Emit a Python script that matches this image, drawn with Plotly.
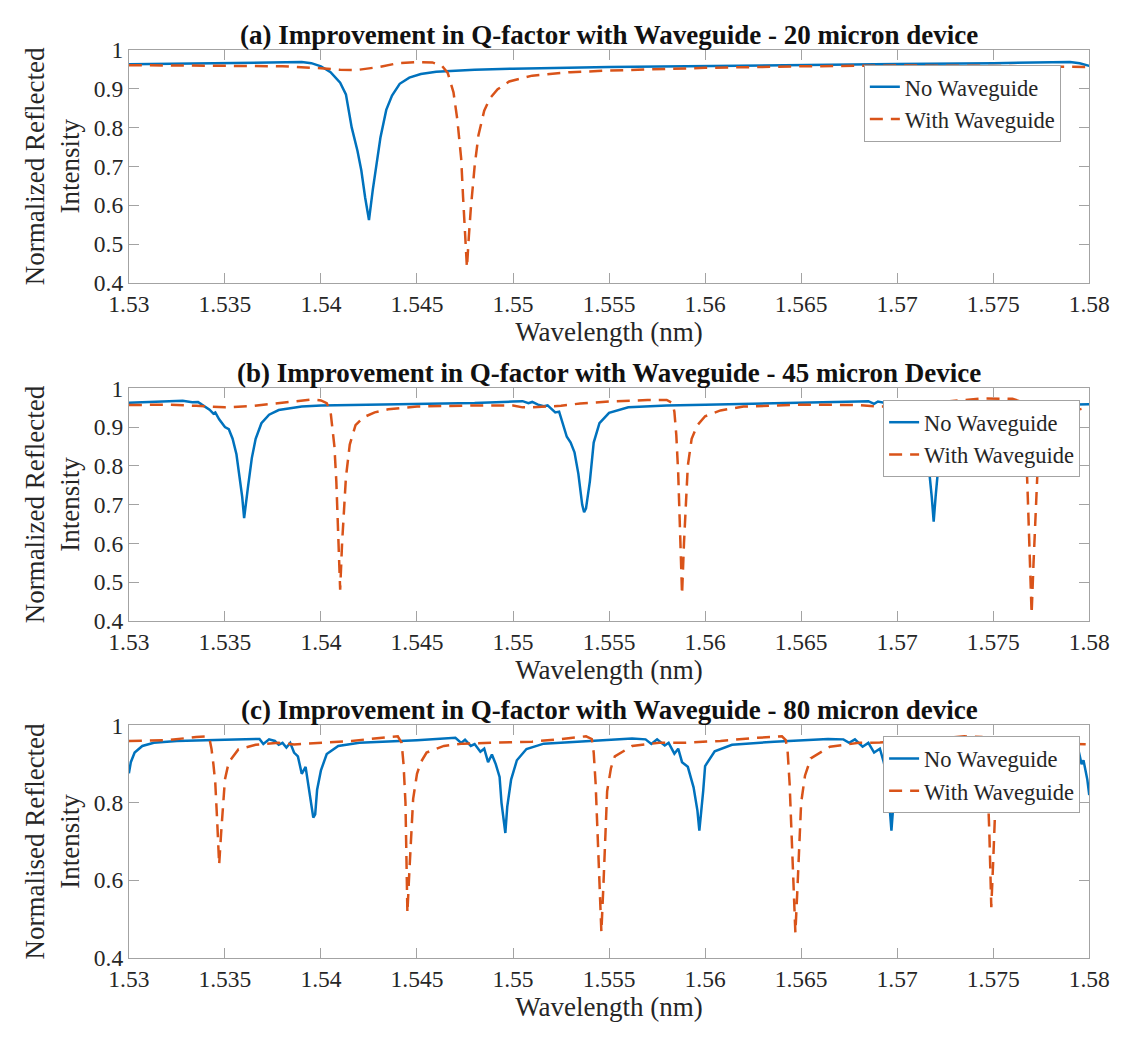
import plotly.graph_objects as go

# ---------------- data ----------------
x_ticks = [1.53, 1.535, 1.54, 1.545, 1.55, 1.555, 1.56, 1.565, 1.57, 1.575, 1.58]
x_tick_text = ["1.53", "1.535", "1.54", "1.545", "1.55", "1.555", "1.56", "1.565", "1.57", "1.575", "1.58"]
y_ticks_ab = [0.4, 0.5, 0.6, 0.7, 0.8, 0.9, 1.0]
y_tick_text_ab = ["0.4", "0.5", "0.6", "0.7", "0.8", "0.9", "1"]
y_ticks_c = [0.4, 0.6, 0.8, 1.0]
y_tick_text_c = ["0.4", "0.6", "0.8", "1"]

series_names = ["No Waveguide", "With Waveguide"]
panel_titles = [
    "(a) Improvement in Q-factor with Waveguide - 20 micron device",
    "(b) Improvement in Q-factor with Waveguide - 45 micron Device",
    "(c) Improvement in Q-factor with Waveguide - 80 micron device",
]
x_title = "Wavelength (nm)"
y_titles = [
    "Normalized Reflected<br>Intensity",
    "Normalized Reflected<br>Intensity",
    "Normalised Reflected<br>Intensity",
]

# (a) 20 micron device
a_no_x = [1.530, 1.533, 1.536, 1.538, 1.539, 1.5395, 1.5400, 1.5405, 1.5410, 1.5413, 1.5416, 1.5419,
          1.5421, 1.5423, 1.5425, 1.5427, 1.5429, 1.5431, 1.5434, 1.5437, 1.5441, 1.5446, 1.5452,
          1.5460, 1.5480, 1.5500, 1.5550, 1.5600, 1.5650, 1.5700, 1.5750, 1.5775, 1.5790, 1.5795, 1.5800]
a_no_y = [0.962, 0.964, 0.966, 0.968, 0.968, 0.965, 0.957, 0.942, 0.915, 0.885, 0.800, 0.740,
          0.690, 0.620, 0.562, 0.640, 0.710, 0.775, 0.845, 0.882, 0.912, 0.928, 0.937,
          0.943, 0.948, 0.951, 0.955, 0.958, 0.961, 0.963, 0.965, 0.968, 0.968, 0.965, 0.958]
a_wg_x = [1.530, 1.535, 1.538, 1.540, 1.541, 1.5418, 1.543, 1.544, 1.545, 1.5458, 1.5463, 1.5466,
          1.5469, 1.5471, 1.5473, 1.5474, 1.5475, 1.5476, 1.5477, 1.5478, 1.5480, 1.5482, 1.5485,
          1.5488, 1.5492, 1.5498, 1.5510, 1.5530, 1.5550, 1.5600, 1.5650, 1.5700, 1.5750, 1.5800]
a_wg_y = [0.960, 0.959, 0.957, 0.952, 0.948, 0.947, 0.955, 0.965, 0.968, 0.967, 0.958, 0.940,
          0.890, 0.820, 0.720, 0.620, 0.520, 0.440, 0.520, 0.590, 0.700, 0.780, 0.843,
          0.875, 0.898, 0.918, 0.933, 0.942, 0.946, 0.953, 0.957, 0.959, 0.958, 0.955]

# (b) 45 micron device
b_no_x = [1.5300, 1.5320, 1.5328, 1.5333, 1.5336, 1.5338, 1.5340, 1.5342, 1.5344, 1.5345, 1.5347,
          1.5349, 1.5350, 1.5352, 1.5354, 1.5356, 1.5358, 1.5359, 1.5360, 1.5361, 1.5362, 1.5364,
          1.5366, 1.5369, 1.5373, 1.5378, 1.5390, 1.5400, 1.5450, 1.5480, 1.5500, 1.5505, 1.5508,
          1.5510, 1.5513, 1.5516, 1.5518, 1.5520, 1.5522, 1.5524, 1.5526, 1.5528, 1.5530, 1.5532,
          1.5534, 1.5536, 1.5537, 1.5538, 1.5540, 1.5542, 1.5545, 1.5550, 1.5560, 1.5580, 1.5600,
          1.5650, 1.5680, 1.5685, 1.5688, 1.5690, 1.5695, 1.5698, 1.5700, 1.5703, 1.5706, 1.5709,
          1.5712, 1.5714, 1.5716, 1.5718, 1.5719, 1.5720, 1.5722, 1.5725, 1.5730, 1.5740, 1.5760,
          1.5780, 1.5800]
b_no_y = [0.963, 0.966, 0.968, 0.964, 0.965, 0.958, 0.952, 0.945, 0.935, 0.938, 0.920,
          0.905, 0.900, 0.895, 0.870, 0.830, 0.760, 0.720, 0.665, 0.700, 0.745, 0.820,
          0.870, 0.910, 0.932, 0.944, 0.953, 0.956, 0.959, 0.962, 0.966, 0.967, 0.962,
          0.965, 0.958, 0.954, 0.956, 0.948, 0.938, 0.940, 0.910, 0.875, 0.860, 0.835,
          0.780, 0.700, 0.680, 0.690, 0.760, 0.860, 0.910, 0.937, 0.951, 0.956, 0.958,
          0.962, 0.966, 0.967, 0.960, 0.966, 0.962, 0.958, 0.952, 0.955, 0.940, 0.925,
          0.900, 0.860, 0.820, 0.720, 0.656, 0.720, 0.830, 0.890, 0.925, 0.945, 0.953,
          0.957, 0.959]
b_wg_x = [1.5300, 1.5320, 1.5335, 1.5350, 1.5365, 1.5380, 1.5395, 1.5400, 1.5403, 1.5405, 1.5406,
          1.5407, 1.5408, 1.5409, 1.5410, 1.5411, 1.5412, 1.5413, 1.5415, 1.5418, 1.5422, 1.5428,
          1.5435, 1.5450, 1.5480, 1.5500, 1.5505, 1.5510, 1.5525, 1.5535, 1.5550, 1.5570, 1.5580,
          1.5583, 1.5584, 1.5585, 1.5586, 1.5587, 1.5588, 1.5589, 1.5590, 1.5591, 1.5593, 1.5596,
          1.5600, 1.5608, 1.5620, 1.5650, 1.5680, 1.5690, 1.5700, 1.5715, 1.5730, 1.5745, 1.5760,
          1.5765, 1.5766, 1.5767, 1.5768, 1.5769, 1.5770, 1.5771, 1.5772, 1.5773, 1.5775, 1.5778,
          1.5785, 1.5790, 1.5800]
b_wg_y = [0.957, 0.958, 0.955, 0.951, 0.955, 0.963, 0.971, 0.969, 0.962, 0.940, 0.900,
          0.850, 0.760, 0.640, 0.480, 0.600, 0.700, 0.770, 0.855, 0.905, 0.925, 0.938,
          0.946, 0.953, 0.956, 0.956, 0.951, 0.951, 0.955, 0.961, 0.966, 0.970, 0.970,
          0.962, 0.940, 0.880, 0.780, 0.620, 0.468, 0.600, 0.720, 0.800, 0.870, 0.905,
          0.928, 0.943, 0.953, 0.958, 0.957, 0.953, 0.954, 0.960, 0.968, 0.974, 0.973,
          0.965, 0.940, 0.860, 0.720, 0.560, 0.418, 0.550, 0.680, 0.780, 0.850, 0.895,
          0.925, 0.940, 0.952]

# (c) 80 micron device
c_no_x = [1.5300, 1.5301, 1.5303, 1.5307, 1.5313, 1.5325, 1.5350, 1.5365, 1.5368, 1.5370, 1.5373,
          1.5376, 1.5378, 1.5380, 1.5382, 1.5384, 1.5386, 1.5388, 1.5390, 1.5392, 1.5393, 1.5395,
          1.5396, 1.5397, 1.5398, 1.5400, 1.5403, 1.5409, 1.5420, 1.5450, 1.5465, 1.5470, 1.5473,
          1.5475, 1.5478, 1.5480, 1.5483, 1.5485, 1.5487, 1.5489, 1.5491, 1.5493, 1.5494, 1.5496,
          1.5497, 1.5499, 1.5502, 1.5507, 1.5516, 1.5550, 1.5562, 1.5569, 1.5572, 1.5575, 1.5579,
          1.5581, 1.5584, 1.5586, 1.5588, 1.5591, 1.5594, 1.5596, 1.5597, 1.5599, 1.5600, 1.5605,
          1.5614, 1.5636, 1.5664, 1.5672, 1.5675, 1.5678, 1.5682, 1.5685, 1.5688, 1.5691, 1.5693,
          1.5695, 1.5697, 1.5699, 1.5702, 1.5710, 1.5730, 1.5755, 1.5775, 1.5785, 1.5790, 1.5792,
          1.5794, 1.5796, 1.5797, 1.5799, 1.5800]
c_no_y = [0.876, 0.905, 0.930, 0.947, 0.955, 0.960, 0.963, 0.966, 0.965, 0.952, 0.964,
          0.960, 0.950, 0.955, 0.943, 0.955, 0.930, 0.920, 0.875, 0.893, 0.860, 0.790,
          0.762, 0.770, 0.834, 0.884, 0.926, 0.947, 0.955, 0.962, 0.966, 0.968, 0.955,
          0.963, 0.947, 0.952, 0.932, 0.940, 0.905, 0.925, 0.900, 0.867, 0.800, 0.722,
          0.790, 0.860, 0.910, 0.939, 0.953, 0.963, 0.966, 0.964, 0.952, 0.964, 0.948,
          0.955, 0.927, 0.940, 0.905, 0.893, 0.840, 0.780, 0.728, 0.830, 0.895, 0.933,
          0.950, 0.958, 0.965, 0.964, 0.955, 0.964, 0.945, 0.955, 0.930, 0.940, 0.905,
          0.860, 0.728, 0.860, 0.910, 0.945, 0.956, 0.962, 0.963, 0.960, 0.950, 0.940,
          0.945, 0.900, 0.910, 0.860, 0.820]
c_wg_x = [1.5300, 1.5320, 1.5335, 1.5341, 1.5342, 1.5343, 1.5344, 1.5345, 1.5346, 1.5347, 1.5348,
          1.5349, 1.5350, 1.5352, 1.5357, 1.5366, 1.5378, 1.5386, 1.5397, 1.5416, 1.5435, 1.5440,
          1.5442, 1.5443, 1.5444, 1.54445, 1.5445, 1.5446, 1.5447, 1.5448, 1.5450, 1.5452, 1.5455,
          1.5464, 1.5474, 1.5490, 1.5510, 1.5525, 1.5538, 1.5541, 1.5542, 1.5543, 1.5544, 1.5545,
          1.5546, 1.5547, 1.5548, 1.5549, 1.5551, 1.5553, 1.5562, 1.5576, 1.5589, 1.5608, 1.5627,
          1.5640, 1.5642, 1.5643, 1.5644, 1.5645, 1.5646, 1.5647, 1.5648, 1.5649, 1.5650, 1.5652,
          1.5655, 1.5665, 1.5680, 1.5691, 1.5710, 1.5735, 1.5744, 1.5746, 1.5747, 1.5748, 1.5749,
          1.5750, 1.5751, 1.5753, 1.5757, 1.5765, 1.5780, 1.5800]
c_wg_y = [0.960, 0.962, 0.970, 0.972, 0.965, 0.940, 0.900, 0.850, 0.750, 0.640, 0.720,
          0.800, 0.860, 0.905, 0.938, 0.950, 0.955, 0.951, 0.954, 0.960, 0.970, 0.972,
          0.955, 0.900, 0.800, 0.640, 0.515, 0.620, 0.720, 0.810, 0.875, 0.905, 0.930,
          0.947, 0.953, 0.955, 0.958, 0.965, 0.972, 0.965, 0.930, 0.850, 0.720, 0.580,
          0.466, 0.580, 0.720, 0.830, 0.890, 0.920, 0.947, 0.955, 0.955, 0.960, 0.968,
          0.972, 0.962, 0.930, 0.850, 0.720, 0.580, 0.464, 0.570, 0.700, 0.800, 0.870,
          0.915, 0.945, 0.955, 0.956, 0.960, 0.972, 0.970, 0.940, 0.860, 0.720, 0.530,
          0.650, 0.780, 0.870, 0.920, 0.943, 0.953, 0.951]

panels = [
    (a_no_x, a_no_y, a_wg_x, a_wg_y, y_ticks_ab, y_tick_text_ab),
    (b_no_x, b_no_y, b_wg_x, b_wg_y, y_ticks_ab, y_tick_text_ab),
    (c_no_x, c_no_y, c_wg_x, c_wg_y, y_ticks_c, y_tick_text_c),
]

# ---------------- styling / layout ----------------
W, H = 1143, 1041
FONT = "Liberation Serif, Times New Roman, serif"
BLUE = "#0072BD"
RED = "#D95319"
AXIS_GREY = "#a3a3a3"
TEXT = "#262626"

x_dom = [112 / W, 1109 / W]
y_px = [(37.5, 277.0), (385.0, 623.3), (730.7, 968.7)]
legend_px = [(875, 53), (895, 397), (895, 742)]

fig = go.Figure()
layout = dict(
    width=W, height=H,
    margin=dict(l=0, r=0, t=0, b=0),
    paper_bgcolor="white", plot_bgcolor="white",
    font=dict(family=FONT, color=TEXT, size=23),
    annotations=[],
    showlegend=True,
)

for i, (nx, ny, wx, wy, yt, ytt) in enumerate(panels):
    sfx = "" if i == 0 else str(i + 1)
    xa, ya, leg = "x" + sfx, "y" + sfx, "legend" + sfx
    fig.add_trace(go.Scatter(x=nx, y=ny, mode="lines", name=series_names[0],
                             line=dict(color=BLUE, width=2.5),
                             xaxis=xa, yaxis=ya, legend=leg))
    fig.add_trace(go.Scatter(x=wx, y=wy, mode="lines", name=series_names[1],
                             line=dict(color=RED, width=2.5, dash="13px,8px"),
                             xaxis=xa, yaxis=ya, legend=leg))
    top, bot = y_px[i]
    ydom = [1 - bot / H, 1 - top / H]
    layout["xaxis" + sfx] = dict(
        domain=x_dom, anchor=ya, range=[1.53, 1.58],
        tickmode="array", tickvals=x_ticks, ticktext=x_tick_text,
        ticks="inside", ticklen=10, tickcolor=AXIS_GREY, tickwidth=1,
        showline=True, linecolor=AXIS_GREY, linewidth=1, mirror="ticks",
        showgrid=False, zeroline=False,
        tickfont=dict(family=FONT, size=23.5, color=TEXT),
        title=dict(text=x_title, font=dict(family=FONT, size=27, color=TEXT), standoff=2),
    )
    layout["yaxis" + sfx] = dict(
        domain=ydom, anchor=xa, range=[0.4, 1.0],
        tickmode="array", tickvals=yt, ticktext=ytt,
        ticks="inside", ticklen=10, tickcolor=AXIS_GREY, tickwidth=1,
        showline=True, linecolor=AXIS_GREY, linewidth=1, mirror="ticks",
        showgrid=False, zeroline=False,
        tickfont=dict(family=FONT, size=23.5, color=TEXT),
        title=dict(text=y_titles[i], font=dict(family=FONT, size=27, color=TEXT), standoff=6),
    )
    lx, ly = legend_px[i]
    layout[leg] = dict(
        x=lx / W, y=1 - ly / H, xanchor="left", yanchor="top",
        bgcolor="white", bordercolor=AXIS_GREY, borderwidth=1,
        font=dict(family=FONT, size=22.5, color=TEXT),
        tracegroupgap=0, itemwidth=30,
    )
    layout["annotations"].append(dict(
        text="<b>" + panel_titles[i] + "</b>", xref="paper", yref="paper",
        x=(x_dom[0] + x_dom[1]) / 2, y=ydom[1], xanchor="center", yanchor="middle",
        yshift=15, showarrow=False, font=dict(family=FONT, size=27, color="#111111"),
    ))

fig.update_layout(**layout)
fig.write_html("out.html")
